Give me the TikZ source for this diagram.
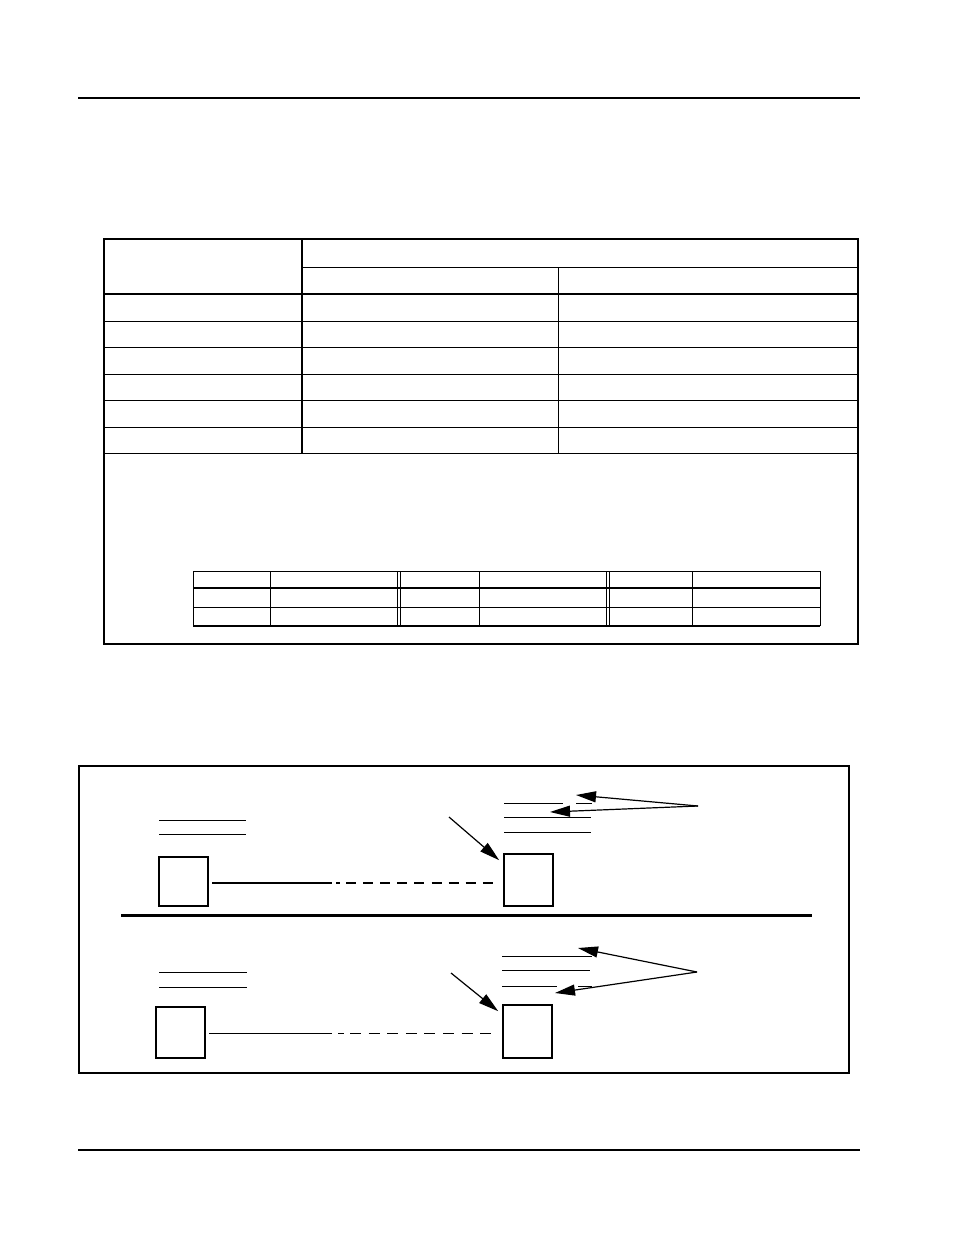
\documentclass[tikz,border=0pt]{standalone}
\usepackage{tikz}
\usetikzlibrary{arrows.meta}
\tikzset{
    pagerule/.style = {line width=1.2pt},
    thinrule/.style = {line width=1pt},
    boldrule/.style = {line width=2.6pt},
    edgerule/.style = {line width=2pt},
    underline/.style = {line width=1pt},
    unitbox/.style = {rectangle, draw=black, line width=1.6pt, inner sep=0pt, minimum width=49pt},
    callout/.style = {-{Triangle[length=20pt,width=11pt]}, line width=1.2pt},
    link/.style = {line width=2pt},
    thinlink/.style = {line width=1pt}
}

\begin{document}
\begin{tikzpicture}[x=1pt, y=-1pt]
    \useasboundingbox (0,0) rectangle (954,1235);

    % page header and footer rules
    \draw[pagerule] (78,98) -- (860,98);
    \draw[pagerule] (78,1150) -- (860,1150);

    % upper table
    \foreach \y in {321,347,374,400,427,453}
        \draw[thinrule] (104,\y) -- (858,\y);
    \draw[thinrule] (302,267) -- (858,267);
    \draw[thinrule] (558,267) -- (558,453);
    \draw[boldrule] (104,294) -- (858,294);
    \draw[boldrule] (302,238) -- (302,453);
    \draw[edgerule] (104,239) rectangle (858,644);
    \draw[edgerule] (104,238.5) -- (858,238.5);

    % note table inside the upper table
    \draw[thinrule] (193,571) -- (820,571);
    \draw[edgerule] (193,588) -- (820,588);
    \draw[thinrule] (193,607) -- (820,607);
    \draw[line width=1.4pt] (193,626) -- (820,626);
    \foreach \x in {193,270,397,400.5,479,606,609,692,820}
        \draw[thinrule] (\x,571) -- (\x,626);

    % diagram frame
    \draw[edgerule] (79,766) rectangle (849,1073);
    \draw[line width=3pt] (121,915.5) -- (812,915.5);

    % upper half
    \node[unitbox, minimum height=49pt] (srcA) at (183.5,881.5) {};
    \node[unitbox, minimum height=52pt] (dstA) at (528.5,880) {};
    \coordinate (cutA) at (332,883);
    \draw[link] (212,883) -- (cutA);
    \draw[link] (336,883) -- (340,883);
    \draw[link, dash pattern=on 10pt off 7.1pt] (346,883) -- (493,883);
    \foreach \y in {820,834}
        \draw[underline] (159,\y) -- (246,\y);
    \draw[underline] (504,803) -- (563,803);
    \draw[underline] (576,803) -- (592,803);
    \foreach \y in {817,832}
        \draw[underline] (504,\y) -- (591,\y);
    \coordinate (noteA) at (698,806);
    \coordinate (tipA1) at (576,795);
    \coordinate (tipA2) at (550,812);
    \coordinate (markA) at (449,817);
    \draw[callout] (noteA) -- (tipA1);
    \draw[callout] (noteA) -- (tipA2);
    \draw[callout] (markA) -- ([shift={(-4,7)}]dstA.north west);

    % lower half
    \node[unitbox, minimum height=51pt] (srcB) at (180.5,1032.5) {};
    \node[unitbox, minimum height=53pt] (dstB) at (527.5,1031.5) {};
    \coordinate (cutB) at (332,1033);
    \draw[thinlink] (209,1033) -- (cutB);
    \draw[thinlink] (338,1033) -- (344,1033);
    \draw[thinlink, dash pattern=on 11pt off 7.6pt] (350,1033) -- (491,1033);
    \foreach \y in {972,987}
        \draw[underline] (159,\y) -- (247,\y);
    \draw[underline] (502,956) -- (592,956);
    \draw[underline] (502,970) -- (590,970);
    \draw[underline] (502,986) -- (557,986);
    \draw[underline] (578,986) -- (592,986);
    \coordinate (noteB) at (697,972);
    \coordinate (tipB1) at (578,948);
    \coordinate (tipB2) at (555,993);
    \coordinate (markB) at (451,973);
    \draw[callout] (noteB) -- (tipB1);
    \draw[callout] (noteB) -- (tipB2);
    \draw[callout] (markB) -- ([shift={(-4,7)}]dstB.north west);
\end{tikzpicture}
\end{document}
